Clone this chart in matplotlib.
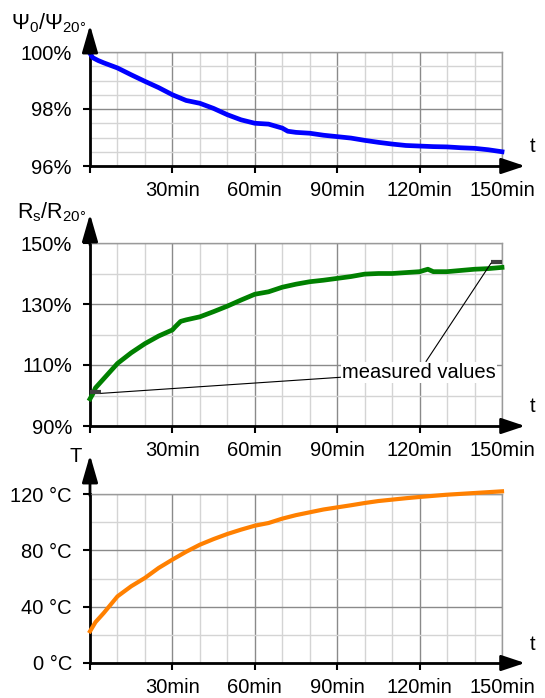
import matplotlib.pyplot as plt
from matplotlib.ticker import MultipleLocator

plt.rcParams['font.family'] = ['Liberation Sans', 'DejaVu Sans']
plt.rcParams['mathtext.fontset'] = 'custom'
plt.rcParams['mathtext.rm'] = 'Liberation Sans'
plt.rcParams['mathtext.it'] = 'Liberation Sans:italic'

# ---------------------------------------------------------------- data
t_psi = [0, 1, 3, 5, 10, 15, 20, 25, 30, 35, 40, 45, 50, 55, 60, 65, 70, 72, 75,
         80, 85, 90, 95, 100, 105, 110, 115, 120, 125, 130, 135, 140, 145, 150]
psi = [99.95, 99.8, 99.7, 99.62, 99.44, 99.2, 98.97, 98.75, 98.5, 98.3, 98.2, 98.02,
       97.8, 97.62, 97.5, 97.47, 97.33, 97.22, 97.18, 97.15, 97.08, 97.03, 96.98,
       96.9, 96.83, 96.77, 96.72, 96.7, 96.68, 96.67, 96.64, 96.62, 96.57, 96.5]

t_res = [0, 1, 2, 4, 6, 8, 10, 15, 20, 25, 30, 31, 33, 35, 40, 45, 50, 55, 60, 65,
         70, 75, 80, 85, 90, 95, 100, 105, 110, 115, 120, 123, 125, 130, 135, 140,
         145, 150]
res = [98.9, 100.5, 102.5, 104.5, 106.5, 108.5, 110.5, 114, 117, 119.5, 121.5, 122.5,
       124.3, 124.8, 125.8, 127.5, 129.3, 131.3, 133.2, 134, 135.5, 136.5, 137.3,
       137.8, 138.4, 139, 139.8, 140, 140, 140.3, 140.6, 141.4, 140.6, 140.6, 141,
       141.4, 141.6, 142]

t_temp = [0, 2, 5, 10, 15, 20, 25, 30, 35, 40, 45, 50, 55, 60, 65, 70, 75, 80, 85,
          90, 95, 100, 105, 110, 115, 120, 125, 130, 135, 140, 145, 150]
temp = [22.5, 29, 35.5, 47.3, 54.5, 60.4, 67.5, 73.4, 79, 84, 88, 91.6, 94.7, 97.5,
        99.4, 102.5, 105, 107, 109, 110.5, 112, 113.6, 115, 116, 117, 117.9, 118.7,
        119.5, 120.1, 120.7, 121.3, 121.9]

# measured value markers on the resistance curve
meas_t = [(0, 4), (146, 150)]
meas_v = [101.1, 143.8]

x_ticks = [0, 30, 60, 90, 120, 150]
x_labels = ['', '30min', '60min', '90min', '120min', '150min']

FS = 14.5
W, H = 545, 698

fig = plt.figure(figsize=(W / 100, H / 100), dpi=100)


def make_axes(top_px, bottom_px):
    ax = fig.add_axes([90 / W, 1 - bottom_px / H, 412 / W, (bottom_px - top_px) / H])
    ax.set_xlim(0, 150)
    ax.xaxis.set_minor_locator(MultipleLocator(10))
    ax.set_xticks(x_ticks)
    ax.set_xticklabels(x_labels)
    ax.grid(which='major', color='#8a8a8a', lw=1.0, zorder=0)
    ax.grid(which='minor', color='#d4d4d4', lw=1.0, zorder=0)
    ax.set_axisbelow(True)
    for s in ['top', 'right']:
        ax.spines[s].set_color('#9a9a9a')
        ax.spines[s].set_linewidth(1.0)
    for s in ['left', 'bottom']:
        ax.spines[s].set_color('black')
        ax.spines[s].set_linewidth(2.0)
    ax.tick_params(which='major', direction='out', length=5, width=1.5,
                   labelsize=FS, pad=8)
    ax.tick_params(axis='x', which='major', pad=6)
    ax.tick_params(which='minor', length=0)

    # x axis arrow and "t"
    h = bottom_px - top_px
    ax.annotate('', xy=(1 + 23 / 412, 0), xytext=(1.0, 0),
                xycoords='axes fraction',
                arrowprops=dict(arrowstyle='-|>,head_length=0.72,head_width=0.24',
                                color='black', lw=2, mutation_scale=20,
                                shrinkA=0, shrinkB=0))
    ax.text(1 + 31 / 412, 19 / h, 't', transform=ax.transAxes, fontsize=FS,
            ha='center', va='center')
    return ax


def y_arrow(ax, top_px, bottom_px, tip_px):
    h = bottom_px - top_px
    ax.annotate('', xy=(0, 1 + (top_px - tip_px) / h), xytext=(0, 0.99),
                xycoords='axes fraction',
                arrowprops=dict(arrowstyle='-|>,head_length=0.83,head_width=0.24',
                                color='black', lw=2, mutation_scale=20,
                                shrinkA=0, shrinkB=0))


# ---------------------------------------------------------------- panel 1
ax1 = make_axes(52, 166)
ax1.set_ylim(96, 100)
ax1.yaxis.set_minor_locator(MultipleLocator(0.5))
ax1.set_yticks([96, 98, 100])
ax1.set_yticklabels(['96%', '98%', '100%'])
ax1.plot(t_psi, psi, color='#0000ff', lw=3.4, clip_on=False, zorder=3)
y_arrow(ax1, 52, 166, 25)
fig.text(86 / W, 1 - 29 / H, r'$\Psi_0/\Psi_{20°}$', fontsize=FS + 1, ha='right',
         va='baseline')

# ---------------------------------------------------------------- panel 2
ax2 = make_axes(243, 426)
ax2.set_ylim(90, 150)
ax2.yaxis.set_minor_locator(MultipleLocator(10))
ax2.set_yticks([90, 110, 130, 150])
ax2.set_yticklabels(['90%', '110%', '130%', '150%'])
ax2.plot(t_res, res, color='#008000', lw=3.4, clip_on=False, zorder=3)
for (t0, t1), v in zip(meas_t, meas_v):
    ax2.plot([t0, t1], [v, v], color='#404040', lw=3, solid_capstyle='butt',
             clip_on=False, zorder=4)
for (t0, t1), v in zip(meas_t, meas_v):
    ax2.annotate('measured values', xy=((t0 + t1) / 2 + (2 if t0 == 0 else -2), v - 0.4),
                 xytext=(119.8, 107.7), textcoords='data', fontsize=FS,
                 ha='center', va='center', zorder=5,
                 bbox=dict(boxstyle='square,pad=0.05', fc='white', ec='none'),
                 arrowprops=dict(arrowstyle='-', color='black', lw=0.8,
                                 shrinkA=0, shrinkB=0))
y_arrow(ax2, 243, 426, 214)
fig.text(86 / W, 1 - 218 / H, r'$\mathrm{R_s/R_{20°}}$', fontsize=FS + 1, ha='right',
         va='baseline')

# ---------------------------------------------------------------- panel 3
ax3 = make_axes(494, 663)
ax3.set_ylim(0, 120)
ax3.yaxis.set_minor_locator(MultipleLocator(20))
ax3.set_yticks([0, 40, 80, 120])
ax3.set_yticklabels(['0 °C', '40 °C', '80 °C', '120 °C'])
ax3.plot(t_temp, temp, color='#ff8000', lw=3.0, clip_on=False, zorder=3)
y_arrow(ax3, 494, 663, 455)
fig.text(82 / W, 1 - 462 / H, 'T', fontsize=FS, ha='right', va='baseline')

fig.savefig('out.png', dpi=100)
